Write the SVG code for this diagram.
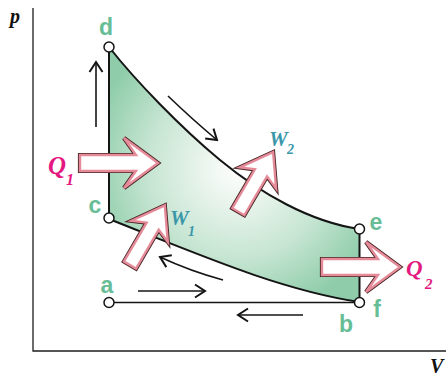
<svg xmlns="http://www.w3.org/2000/svg" width="446" height="377" viewBox="0 0 446 377">
<style>
.ax{stroke:#1e1e1e;stroke-width:1.3;fill:none}
.edge{stroke:#141414;stroke-width:2;fill:none}
.thin{stroke:#141414;stroke-width:1.6;fill:none}
.pt{fill:#fff;stroke:#141414;stroke-width:1.5}
.lbl{font-family:"Liberation Sans",Arial,sans-serif;font-weight:bold;font-size:23px;fill:#67bd96;text-anchor:middle}
.axl{font-family:"Liberation Serif","Times New Roman",serif;font-weight:bold;font-style:italic;font-size:20px;fill:#111}
.q{font-family:"Liberation Serif","Times New Roman",serif;font-weight:bold;font-style:italic;fill:#e3197f}
.w{font-family:"Liberation Serif","Times New Roman",serif;font-weight:bold;font-style:italic;fill:#3a97a9}
.fo{fill:none;stroke:#4a2626;stroke-width:4.2;stroke-linejoin:miter}
.fp{fill:#fff;stroke:#e58a98;stroke-width:2.4;stroke-linejoin:miter}
</style>
<defs>
<radialGradient id="g" gradientUnits="userSpaceOnUse" cx="238" cy="168" r="150">
<stop offset="0" stop-color="#ffffff"/>
<stop offset="0.15" stop-color="#f2f8f3"/>
<stop offset="0.6" stop-color="#c6e5d2"/>
<stop offset="1" stop-color="#8fcdaa"/>
</radialGradient>
<marker id="ah" viewBox="-12 -8 14 16" refX="0" refY="0" markerWidth="14" markerHeight="16" markerUnits="userSpaceOnUse" orient="auto">
<path d="M-10,-6.5 L0,0 L-10,6.5" fill="none" stroke="#141414" stroke-width="2"/>
</marker>
<path id="fq" d="M0,-8 L56,-8 L44,-25 L78,0 L44,25 L56,8 L0,8 Z"/>
<path id="fw" d="M0,-7 L45,-7 L39,-21 L69,0 L39,21 L45,7 L0,7 Z"/>
</defs>

<g id="axes">
<path class="ax" d="M33,8 L33,351 L446,351"/>
<text class="axl" x="10" y="23">p</text>
<text class="axl" x="430" y="373">V</text>
</g>

<g id="cycle">
<path d="M109,47 C135,80 180,127 220,160 C260,193 310,222 359.5,229 L359.5,302 C280,290 200,255 109,219 Z" fill="url(#g)"/>
<path class="edge" d="M109,47 C135,80 180,127 220,160 C260,193 310,222 359.5,229"/>
<path class="edge" d="M109,219 C200,255 280,290 359.5,302"/>
<path class="edge" d="M109,47 L109,219"/>
<path class="edge" d="M359.5,229 L359.5,302"/>
<path class="thin" d="M109,302.5 L359.5,302.5"/>
</g>

<g id="connectors">
<path class="thin" d="M96,127 L96,62" marker-end="url(#ah)"/>
<path class="thin" d="M168,96 Q193,120 217,140" marker-end="url(#ah)"/>
<path class="thin" d="M223,280 Q190,271 160,257" marker-end="url(#ah)"/>
<path class="thin" d="M138,291 L205,291" marker-end="url(#ah)"/>
<path class="thin" d="M303,315 L238,315" marker-end="url(#ah)"/>
</g>

<g id="node-d"><circle class="pt" cx="109" cy="47" r="5"/><text class="lbl" x="106" y="35">d</text></g>
<g id="node-c"><circle class="pt" cx="109" cy="218" r="5"/><text class="lbl" x="95" y="213">c</text></g>
<g id="node-a"><circle class="pt" cx="109" cy="302.5" r="5"/><text class="lbl" x="107" y="293">a</text></g>
<g id="node-e"><circle class="pt" cx="359.5" cy="229" r="5"/><text class="lbl" x="376" y="230">e</text></g>
<g id="node-f"><circle class="pt" cx="359.5" cy="302.5" r="5"/><text class="lbl" x="377" y="317">f</text></g>
<g id="node-b"><text class="lbl" x="346" y="332">b</text></g>

<g id="Q1">
<g transform="translate(80,163)"><use href="#fq" class="fo"/><use href="#fq" class="fp"/></g>
<text class="q" x="48" y="174" font-size="25">Q</text><text class="q" x="66" y="185" font-size="16">1</text>
</g>
<g id="Q2">
<g transform="translate(322,267)"><use href="#fq" class="fo"/><use href="#fq" class="fp"/></g>
<text class="q" x="406" y="276" font-size="23">Q</text><text class="q" x="425" y="289" font-size="15">2</text>
</g>
<g id="W1">
<g transform="translate(130,265) rotate(-59.7)"><use href="#fw" class="fo"/><use href="#fw" class="fp"/></g>
<text class="w" x="170" y="225" font-size="21">W</text><text class="w" x="188" y="236" font-size="14">1</text>
</g>
<g id="W2">
<g transform="translate(238.3,211.7) rotate(-59.7)"><use href="#fw" class="fo"/><use href="#fw" class="fp"/></g>
<text class="w" x="269" y="146" font-size="21">W</text><text class="w" x="287" y="154" font-size="14">2</text>
</g>
</svg>
